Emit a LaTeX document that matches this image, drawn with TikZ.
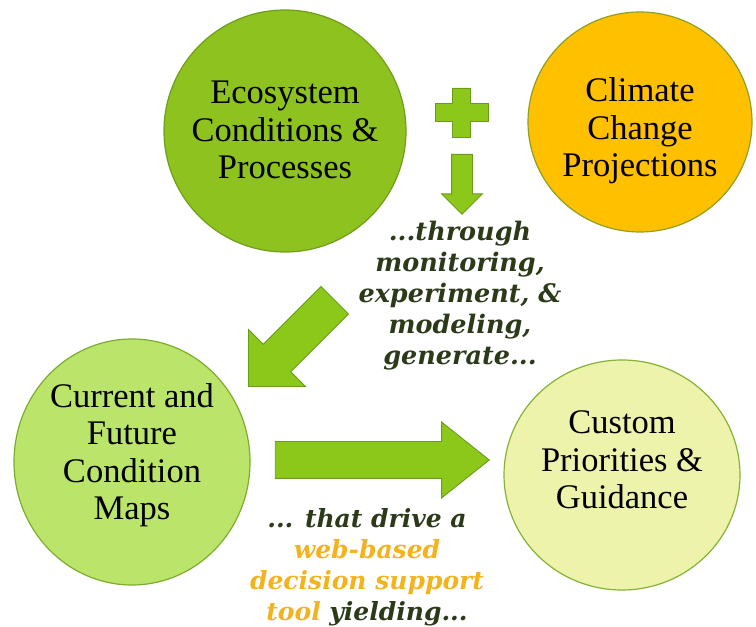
\documentclass[tikz,border=0pt]{standalone}
\usepackage{fontspec}
\setmainfont{Liberation Serif}
\newfontfamily\notefont{DejaVu Serif}
\usetikzlibrary{shapes.geometric,shapes.arrows}
\definecolor{ecofill}{RGB}{141,194,31}
\definecolor{ecoedge}{RGB}{112,158,26}
\definecolor{climfill}{RGB}{255,192,0}
\definecolor{climedge}{RGB}{140,160,36}
\definecolor{curfill}{RGB}{186,228,106}
\definecolor{curedge}{RGB}{126,172,44}
\definecolor{custfill}{RGB}{238,243,172}
\definecolor{custedge}{RGB}{134,178,54}
\definecolor{arrowgreen}{RGB}{140,200,25}
\definecolor{arrowedge}{RGB}{108,154,28}
\definecolor{noteink}{RGB}{44,58,26}
\definecolor{noteorange}{RGB}{243,179,30}

\begin{document}
\begin{tikzpicture}[x=1pt, y=1pt,
    bubble/.style={ellipse, line width=1.2pt, inner sep=0pt},
    bubbletext/.style={font=\fontsize{34.5}{37.5}\selectfont, align=center},
    blockarrow/.style={single arrow, fill=arrowgreen, draw=arrowedge, line width=0.9pt,
        inner xsep=0pt, minimum width=0pt, anchor=tip},
    note/.style={font=\notefont\bfseries\itshape\fontsize{25.5}{31}\selectfont, align=center, text=noteink}]
    \useasboundingbox (0,0) rectangle (756,627);

    % Circles
    \node[bubble, fill=ecofill, draw=ecoedge, minimum width=242, minimum height=242,
        label={[bubbletext, yshift=1]center:{Ecosystem\\Conditions \&\\Processes}}] (eco) at (285,496) {};
    \node[bubble, fill=climfill, draw=climedge, minimum width=224, minimum height=220,
        label={[bubbletext, yshift=-9]center:{Climate\\Change\\Projections}}] (climate) at (640,505) {};
    \node[bubble, fill=curfill, draw=curedge, minimum width=236, minimum height=246,
        label={[bubbletext, yshift=7]center:{Current and\\Future\\Condition\\Maps}}] (current) at (132,165) {};
    \node[bubble, fill=custfill, draw=custedge, minimum width=236, minimum height=230,
        label={[bubbletext, yshift=15]center:{Custom\\Priorities \&\\Guidance}}] (custom) at (622,152) {};

    % Plus sign
    \coordinate (plus) at (461.5,514.5);
    \filldraw[fill=arrowgreen, draw=arrowedge, line width=0.9pt, shift={(plus)}]
        (-9,24.5) -- (9,24.5) -- (9,9) -- (26.5,9) -- (26.5,-9) -- (9,-9) -- (9,-24.5)
        -- (-9,-24.5) -- (-9,-9) -- (-26.5,-9) -- (-26.5,9) -- (-9,9) -- cycle;

    % Block arrows
    \node[blockarrow, rotate=-90, minimum height=60, inner ysep=10,
        single arrow head extend=10, single arrow tip angle=90] (down) at (462,412) {};
    \node[blockarrow, rotate=225, minimum height=122, inner ysep=19,
        single arrow head extend=21, single arrow tip angle=90] (diag) at (248,240) {};
    \node[blockarrow, minimum height=214, inner ysep=18,
        single arrow head extend=19.5, single arrow tip angle=77] (right) at (490,167) {};

    % Notes
    \node[note] (through) at (460,331) {...through\\monitoring,\\experiment, \&\\modeling,\\generate...};
    \node[note, font=\notefont\bfseries\itshape\fontsize{25}{31}\selectfont] (drive) at (367,60)
        {... that drive a\\\textcolor{noteorange}{web-based}\\\textcolor{noteorange}{decision support}\\\textcolor{noteorange}{tool} yielding...};
\end{tikzpicture}
\end{document}
